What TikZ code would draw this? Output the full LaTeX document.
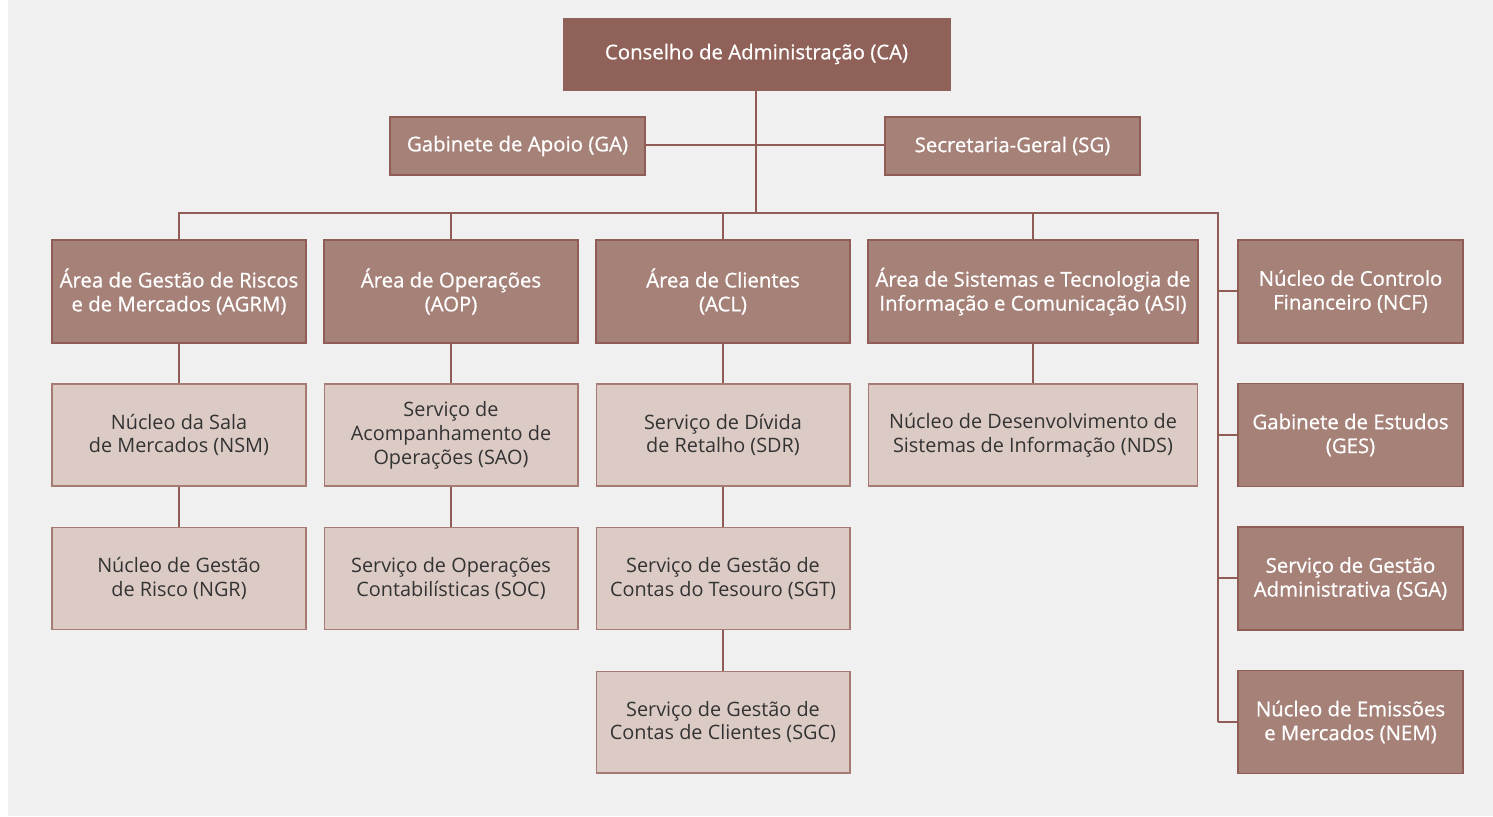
\documentclass[tikz,border=0pt]{standalone}
\usepackage{fontspec}
\setmainfont{Open Sans}
\newfontfamily\heavier[FakeBold=0.8]{Open Sans}
\usepackage{xcolor}
\usetikzlibrary{calc}

\definecolor{bgray}{HTML}{F0F0F0}
\definecolor{topfill}{HTML}{8F6158}
\definecolor{midfill}{HTML}{A68178}
\definecolor{midline}{HTML}{8F5D55}
\definecolor{lowfill}{HTML}{DCCBC5}
\definecolor{lowline}{HTML}{A47C74}
\definecolor{lowtext}{HTML}{333333}

\tikzset{
  unit/.style={rectangle, align=center, inner sep=2pt,
    font=\fontsize{11.3}{13.6}\selectfont},
  whitetext/.style={text=white, font=\fontsize{11.6}{13.6}\selectfont\heavier},
  topunit/.style={unit, whitetext, fill=topfill, draw=topfill,
    minimum width=7.74cm, minimum height=1.44cm},
  staff/.style={unit, whitetext, fill=midfill, draw=midline, line width=1.1pt,
    minimum width=5.1cm, minimum height=1.16cm},
  area/.style={unit, whitetext, fill=midfill, draw=midline, line width=1.1pt,
    minimum width=5.08cm, minimum height=2.06cm},
  sub/.style={unit, fill=lowfill, draw=lowline, line width=0.6pt, text=lowtext,
    minimum width=5.08cm, minimum height=2.04cm},
  link/.style={draw=midline, line width=0.8pt}
}

\begin{document}
\begin{tikzpicture}[x=0.02cm,y=-0.02cm]
\useasboundingbox (0,0) rectangle (1493,816);
\fill[white] (0,0) rectangle (1493,816);
\fill[bgray] (8,0) rectangle (1493,816);

\coordinate (bus) at (756,213);
\coordinate (corner) at (1218,213);

% links first, boxes cover them
\draw[link] (756,53) -- (bus);
\draw[link] (517,145) -- (1012,145);
\draw[link] (179,291) |- (corner) -- (1218,722);
\foreach \x in {451,723,1033}
  \draw[link] (\x,213) -- (\x,291);
\foreach \y in {291,435,578,722}
  \draw[link] (1218,\y) -- (1350,\y);
\foreach \x in {179,451,723,1033}
  \draw[link] (\x,291) -- (\x,435);
\foreach \x in {179,451,723}
  \draw[link] (\x,435) -- (\x,578);
\draw[link] (723,578) -- (723,722);

% top
\node[topunit] (CA) at (756.5,54) {Conselho de Administração (CA)};
\node[staff] (GA) at (517.5,146) {Gabinete de Apoio (GA)};
\node[staff] (SG) at (1012.5,146) {Secretaria-Geral (SG)};

% areas
\node[area] (AGRM) at (179,291.5) {Área de Gestão de Riscos\\e de Mercados (AGRM)};
\node[area] (AOP) at (451,291.5) {Área de Operações\\(AOP)};
\node[area] (ACL) at (723,291.5) {Área de Clientes\\(ACL)};
\node[area, minimum width=6.6cm] (ASI) at (1033,291.5) {Área de Sistemas e Tecnologia de\\Informação e Comunicação (ASI)};

% right column
\node[area, minimum width=4.5cm] (NCF) at (1350.5,291.5) {Núcleo de Controlo\\Financeiro (NCF)};
\node[area, minimum width=4.5cm] (GES) at (1350.5,435) {Gabinete de Estudos\\(GES)};
\node[area, minimum width=4.5cm] (SGA) at (1350.5,578.5) {Serviço de Gestão\\Administrativa (SGA)};
\node[area, minimum width=4.5cm] (NEM) at (1350.5,722) {Núcleo de Emissões\\e Mercados (NEM)};

% services
\node[sub] (NSM) at (179,435) {Núcleo da Sala\\de Mercados (NSM)};
\node[sub] (SAO) at (451,435) {Serviço de\\Acompanhamento de\\Operações (SAO)};
\node[sub] (SDR) at (723,435) {Serviço de Dívida\\de Retalho (SDR)};
\node[sub, minimum width=6.58cm] (NDS) at (1033,435) {Núcleo de Desenvolvimento de\\Sistemas de Informação (NDS)};

\node[sub] (NGR) at (179,578.5) {Núcleo de Gestão\\de Risco (NGR)};
\node[sub] (SOC) at (451,578.5) {Serviço de Operações\\Contabilísticas (SOC)};
\node[sub] (SGT) at (723,578.5) {Serviço de Gestão de\\Contas do Tesouro (SGT)};
\node[sub] (SGC) at (723,722) {Serviço de Gestão de\\Contas de Clientes (SGC)};
\end{tikzpicture}
\end{document}
